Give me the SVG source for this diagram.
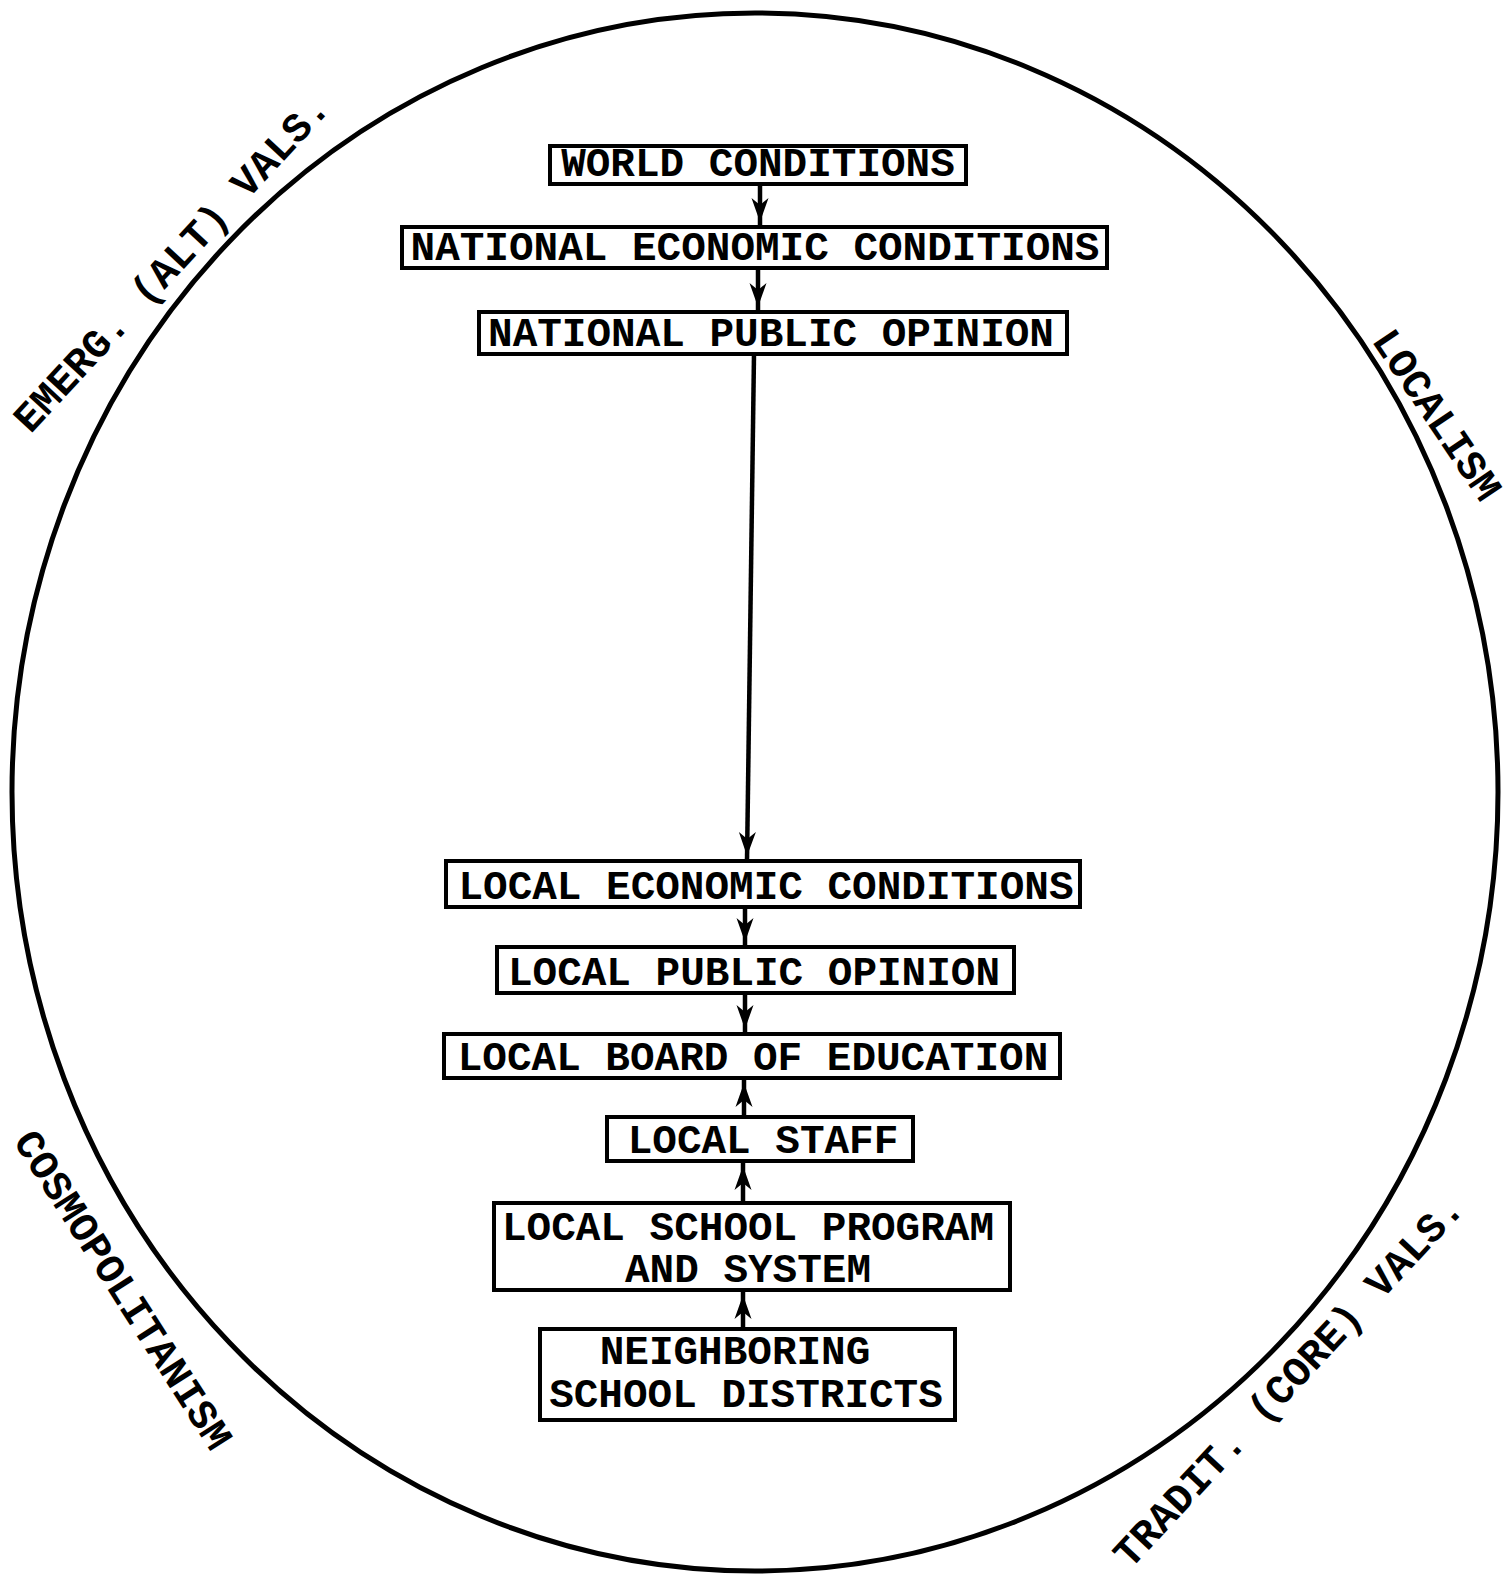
<svg xmlns="http://www.w3.org/2000/svg" width="1512" height="1575" viewBox="0 0 1512 1575">
<style>
.bg{fill:#fff}
.ring{fill:none;stroke:#000;stroke-width:5}
.box{fill:#fff;stroke:#000;stroke-width:4}
.t{font-family:"Liberation Mono","DejaVu Sans Mono",monospace;font-size:41px;font-weight:bold;fill:#000;text-anchor:middle}
.lab{font-family:"Liberation Mono","DejaVu Sans Mono",monospace;font-size:41px;font-weight:bold;fill:#000;text-anchor:middle}
.c{fill:none;stroke:#000;stroke-width:4.5;marker-end:url(#ah)}
</style>
<defs>
<marker id="ah" markerUnits="userSpaceOnUse" markerWidth="40" markerHeight="40" viewBox="-30 -15 40 30" refX="5" refY="0" orient="auto">
<path d="M0,0 L-24,-8.5 L-17,0 L-24,8.5 Z" fill="#000"/>
</marker>
</defs>
<rect class="bg" x="0" y="0" width="1512" height="1575"/>
<ellipse class="ring" cx="755" cy="792" rx="743" ry="779"/>

<g id="labels">
<text class="lab" transform="translate(181,272) rotate(-47.2)">EMERG. (ALT) VALS.</text>
<text class="lab" transform="translate(1426,422) rotate(56)">LOCALISM</text>
<text class="lab" transform="translate(112,1297) rotate(57.5)">COSMOPOLITANISM</text>
<text class="lab" transform="translate(1298,1390) rotate(-47)">TRADIT. (CORE) VALS.</text>
</g>

<g id="connectors">
<path class="c" d="M760,184 L760,227"/>
<path class="c" d="M758,268 L758,312"/>
<path class="c" d="M754,354 L747,861"/>
<path class="c" d="M745,907 L745,947"/>
<path class="c" d="M745,993 L745,1034"/>
<path class="c" d="M744,1117 L744,1078"/>
<path class="c" d="M743,1203 L743,1161"/>
<path class="c" d="M743,1329 L743,1290"/>
</g>

<g id="world-conditions">
<rect class="box" x="550" y="146" width="416" height="38"/>
<text class="t" x="758" y="176">WORLD CONDITIONS</text>
</g>
<g id="national-economic-conditions">
<rect class="box" x="402" y="227" width="705" height="41"/>
<text class="t" x="755" y="260">NATIONAL ECONOMIC CONDITIONS</text>
</g>
<g id="national-public-opinion">
<rect class="box" x="479" y="312" width="588" height="42"/>
<text class="t" x="771" y="346">NATIONAL PUBLIC OPINION</text>
</g>
<g id="local-economic-conditions">
<rect class="box" x="446" y="861" width="634" height="46"/>
<text class="t" x="766" y="899">LOCAL ECONOMIC CONDITIONS</text>
</g>
<g id="local-public-opinion">
<rect class="box" x="497" y="947" width="517" height="46"/>
<text class="t" x="754" y="985">LOCAL PUBLIC OPINION</text>
</g>
<g id="local-board-of-education">
<rect class="box" x="444" y="1034" width="616" height="44"/>
<text class="t" x="753" y="1070">LOCAL BOARD OF EDUCATION</text>
</g>
<g id="local-staff">
<rect class="box" x="607" y="1117" width="306" height="44"/>
<text class="t" x="763" y="1153">LOCAL STAFF</text>
</g>
<g id="local-school-program">
<rect class="box" x="494" y="1203" width="516" height="87"/>
<text class="t" x="748" y="1240">LOCAL SCHOOL PROGRAM</text>
<text class="t" x="748" y="1282">AND SYSTEM</text>
</g>
<g id="neighboring-school-districts">
<rect class="box" x="540" y="1329" width="415" height="91"/>
<text class="t" x="735" y="1364">NEIGHBORING</text>
<text class="t" x="746" y="1407">SCHOOL DISTRICTS</text>
</g>
</svg>
